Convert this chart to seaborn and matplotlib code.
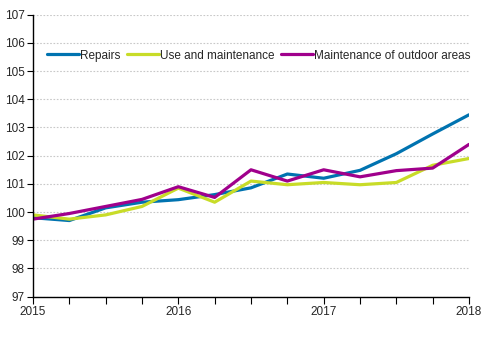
import matplotlib
matplotlib.use("Agg")
import matplotlib.pyplot as plt
import seaborn as sns
import pandas as pd
from matplotlib.ticker import MultipleLocator

quarters = list(range(13))
year_ticks = [0, 4, 8, 12]
year_labels = ["2015", "2016", "2017", "2018"]

repairs = [99.8, 99.7, 100.15, 100.35, 100.44, 100.62, 100.86, 101.35, 101.2, 101.48, 102.07, 102.77, 103.45]
use_maint = [99.9, 99.75, 99.9, 100.2, 100.85, 100.35, 101.1, 100.97, 101.05, 100.97, 101.05, 101.66, 101.9]
outdoor = [99.75, 99.95, 100.2, 100.45, 100.9, 100.52, 101.5, 101.1, 101.5, 101.25, 101.47, 101.56, 102.4]

series_names = ["Repairs", "Use and maintenance", "Maintenance of outdoor areas"]
colors = ["#0073B0", "#C8DC28", "#A0008C"]

df = pd.DataFrame({
    "q": quarters * 3,
    "value": repairs + use_maint + outdoor,
    "series": [series_names[0]] * 13 + [series_names[1]] * 13 + [series_names[2]] * 13,
})

sns.set_style("white")
plt.rcParams["font.family"] = ["Liberation Sans", "DejaVu Sans"]

fig = plt.figure(figsize=(4.91, 3.40), dpi=100)
ax = fig.add_axes([0.0672, 0.1274, 0.888, 0.8294])

sns.lineplot(data=df, x="q", y="value", hue="series", hue_order=series_names,
             palette=colors, linewidth=2.3, ax=ax, legend=True)

ax.set_xlim(0, 12)
ax.set_ylim(97, 107)
ax.set_xticks(year_ticks)
ax.set_xticklabels(year_labels)
ax.xaxis.set_minor_locator(MultipleLocator(1))
ax.yaxis.set_major_locator(MultipleLocator(1))
ax.set_xlabel("")
ax.set_ylabel("")

ax.grid(axis="y", color="#C8C8C8", linestyle=(0, (1.5, 1.5)), linewidth=0.8)
ax.set_axisbelow(True)

for s in ["top", "right"]:
    ax.spines[s].set_visible(False)
for s in ["left", "bottom"]:
    ax.spines[s].set_color("black")
    ax.spines[s].set_linewidth(1.0)

ax.tick_params(axis="x", which="both", direction="out", length=5, width=0.8,
               color="black", labelsize=8.5, pad=2, bottom=True)
ax.tick_params(axis="y", which="major", direction="out", length=4, width=0.8,
               color="black", labelsize=8.5, pad=2, left=True)

leg = ax.legend(loc="upper left", bbox_to_anchor=(0.022, 0.893), ncol=3, frameon=False,
                fontsize=8.5, handlelength=2.7, handletextpad=0.05, columnspacing=0.6,
                borderaxespad=0)
for line in leg.get_lines():
    line.set_linewidth(2.3)

fig.savefig("out.png", dpi=100)
